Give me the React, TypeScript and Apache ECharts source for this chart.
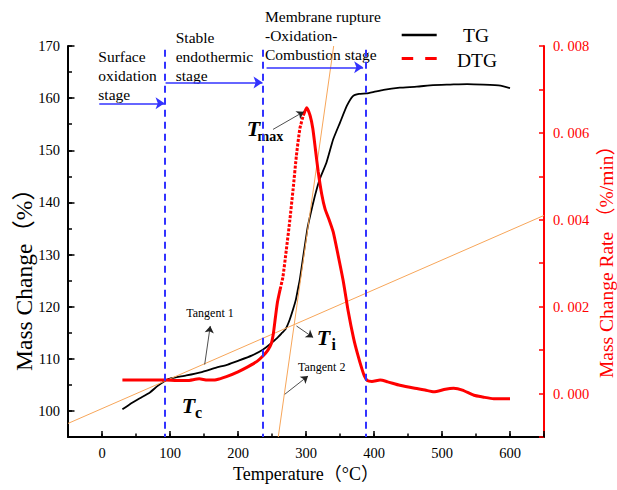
import React, { useEffect, useRef } from 'react';
import * as echarts from 'echarts';

// ---------- data ----------
const tgData: [number, number][] = [
  [30, 100.3], [38, 101.0], [45, 101.6], [55, 102.4], [70, 103.5], [82, 104.8], [93, 105.8],
  [100, 106.2], [124, 106.8], [145, 107.4], [168, 108.3], [185, 108.9], [200, 109.6], [220, 110.6],
  [237, 111.8], [247, 112.8], [257, 113.9], [265, 115.0], [270, 115.7], [276, 117.5], [281, 119.5],
  [285, 121.3], [288, 123.3], [291, 125.3], [296, 129.7], [302, 134.9], [306, 137.4], [313, 141.2],
  [320, 144.4], [330, 147.6], [340, 152.1], [350, 155.3], [360, 158.5], [369, 160.4], [378, 160.8],
  [389, 160.9], [400, 161.2], [414, 161.6], [438, 162.0], [463, 162.2], [487, 162.5], [512, 162.6],
  [537, 162.7], [561, 162.6], [586, 162.4], [600, 161.9],
];

const dtgData: [number, number][] = [
  [30, 0.00031], [50, 0.00031], [70, 0.00031], [93, 0.00031], [110, 0.0003], [125, 0.0003],
  [143, 0.00034], [155, 0.00031], [168, 0.00032], [183, 0.00039], [200, 0.0005], [215, 0.00062],
  [228, 0.00074], [237, 0.00087], [244, 0.001], [249, 0.00115], [252, 0.00138], [255, 0.00175],
  [258, 0.0021], [262, 0.0024], [266, 0.00268], [271, 0.0033], [276, 0.00396], [281, 0.0047],
  [286, 0.00549], [291, 0.0061], [296, 0.0064], [301, 0.00658], [306, 0.0064], [310, 0.0061],
  [314, 0.0056], [318, 0.0051], [323, 0.0046], [328, 0.00425], [334, 0.004], [340, 0.00372],
  [347, 0.0032], [355, 0.00257], [362, 0.0019], [370, 0.00127], [376, 0.0009], [382, 0.00058],
  [386, 0.0004], [390, 0.0003], [397, 0.00028], [409, 0.00031], [420, 0.00027], [438, 0.00019],
  [460, 0.00012], [475, 0.00008], [488, 0.00004], [505, 0.0001], [517, 0.00012], [530, 0.00008],
  [547, -0.00004], [560, -0.00008], [576, -0.00012], [600, -0.00012],
];

// range of the DTG rise that is drawn dotted in the reference
const DOT_FROM = 262;
const DOT_TO = 296;

// stage boundaries (°C)
const stageBounds = [93, 237, 388];

// tangent lines [T, mass]
const tangent1: [number, number][] = [[-50, 97.6], [650, 137.5]];
const tangent2: [number, number][] = [[259.2, 95], [340.7, 170]];

// stage arrows [T0, T1, mass]
const stageArrows: [number, number, number][] = [
  [-4, 92, 159.0],
  [93.5, 236, 163.0],
  [242, 384, 165.9],
];

// annotation pointers [[T0, m0], [T1, m1]]
const pointers: [[number, number], [number, number]][] = [
  [[151, 108.9], [159.2, 116.3]],   // Tangent 1
  [[268.8, 103.2], [303, 106.7]],   // Tangent 2
  [[286, 116.3], [310.5, 114.1]],   // Ti
  [[251.5, 154.0], [296.8, 157.4]], // Tmax
];

const SERIF = "'Liberation Serif', 'Noto Sans CJK SC', serif";
const BLUE = '#3333ff';
const RED = '#ff0000';
const ORANGE = '#f7a65a';

export default function App() {
  const ref = useRef<HTMLDivElement>(null);

  useEffect(() => {
    if (!ref.current) return;
    const chart = echarts.init(ref.current, null, { renderer: 'svg' });

    const dtgSolid = dtgData.map(([t, v]) => (t > DOT_FROM && t < DOT_TO ? [t, '-'] : [t, v]));
    const dtgDotted = dtgData.filter(([t]) => t >= DOT_FROM && t <= DOT_TO);

    const markData: any[] = [];
    stageBounds.forEach((t) => {
      markData.push([
        { coord: [t, 169.3], symbol: 'none', lineStyle: { color: BLUE, width: 2, type: [7, 5] }, itemStyle: { color: BLUE } },
        { coord: [t, 95], symbol: 'none' },
      ]);
    });
    stageArrows.forEach(([a, b, m]) => {
      markData.push([
        { coord: [a, m], symbol: 'none', lineStyle: { color: BLUE, width: 1.5, type: 'solid' }, itemStyle: { color: BLUE } },
        { coord: [b, m], symbol: 'arrow', symbolSize: 9 },
      ]);
    });
    pointers.forEach(([p0, p1]) => {
      markData.push([
        { coord: p0, symbol: 'none', lineStyle: { color: '#222', width: 0.8, type: 'solid' }, itemStyle: { color: '#222' } },
        { coord: p1, symbol: 'arrow', symbolSize: 7 },
      ]);
    });

    const txt = (x: number, y: number, text: string, extra: any = {}, el: any = {}) => ({
      type: 'text',
      x,
      y,
      silent: true,
      ...el,
      style: {
        text,
        fill: '#000',
        fontFamily: SERIF,
        fontSize: 15.5,
        align: 'left',
        textAlign: 'left',
        verticalAlign: 'middle',
        textVerticalAlign: 'middle',
        ...extra,
      },
    });

    const option: any = {
      animation: false,
      backgroundColor: '#fff',
      grid: { left: 68, right: 73, top: 46, bottom: 53 },
      xAxis: [
        {
          type: 'value', min: -50, max: 650, interval: 50, position: 'bottom',
          axisLine: { show: true, onZero: false, lineStyle: { color: '#000', width: 2 } },
          axisTick: { show: true, inside: true, length: 3.5, lineStyle: { color: '#000', width: 1.5 } },
          axisLabel: {
            formatter: (v: number) => (Math.round(v) % 100 === 0 ? String(Math.round(v)) : ''),
            fontSize: 14.5, fontFamily: SERIF, color: '#000', margin: 9,
          },
          splitLine: { show: false },
          name: 'Temperature（°C）', nameLocation: 'middle', nameGap: 26,
          nameTextStyle: { fontSize: 18, fontFamily: SERIF, color: '#000' },
        },
        {
          type: 'value', min: -50, max: 650, splitNumber: 7, position: 'bottom',
          axisLine: { show: false, onZero: false },
          axisTick: { show: true, inside: true, length: 6, lineStyle: { color: '#000', width: 1.5 } },
          axisLabel: { show: false },
          splitLine: { show: false },
        },
      ],
      yAxis: [
        {
          type: 'value', min: 95, max: 170, interval: 5, position: 'left',
          axisLine: { show: true, onZero: false, lineStyle: { color: '#000', width: 2 } },
          axisTick: { show: true, inside: true, length: 4, lineStyle: { color: '#000', width: 1.5 } },
          axisLabel: {
            formatter: (v: number) => (Math.round(v) % 10 === 0 && v >= 100 ? String(Math.round(v)) : ''),
            fontSize: 14.5, fontFamily: SERIF, color: '#000', margin: 8,
          },
          splitLine: { show: false },
        },
        {
          type: 'value', min: -0.001, max: 0.008, interval: 0.001, position: 'right',
          axisLine: { show: true, onZero: false, lineStyle: { color: RED, width: 2 } },
          axisTick: { show: true, inside: true, length: 5, lineStyle: { color: RED, width: 1.5 } },
          axisLabel: {
            formatter: (v: number) => {
              const k = Math.round(v * 1000);
              if (k < 0 || k % 2 !== 0) return '';
              return '0. ' + String(k).padStart(3, '0');
            },
            fontSize: 14.5, fontFamily: SERIF, color: RED, margin: 9,
          },
          splitLine: { show: false },
        },
        {
          type: 'value', min: 95, max: 170, splitNumber: 8, position: 'left',
          axisLine: { show: false, onZero: false },
          axisTick: { show: true, inside: true, length: 6.5, lineStyle: { color: '#000', width: 1.5 } },
          axisLabel: { show: false },
          splitLine: { show: false },
        },
      ],
      series: [
        {
          name: 'TG', type: 'line', xAxisIndex: 0, yAxisIndex: 0, data: tgData,
          symbol: 'none', smooth: 0.15, lineStyle: { color: '#000', width: 1.8 }, silent: true,
        },
        {
          name: 'Tangent 1', type: 'line', xAxisIndex: 0, yAxisIndex: 0, data: tangent1,
          symbol: 'none', lineStyle: { color: ORANGE, width: 1 }, silent: true,
        },
        {
          name: 'Tangent 2', type: 'line', xAxisIndex: 0, yAxisIndex: 0, data: tangent2,
          symbol: 'none', lineStyle: { color: ORANGE, width: 1 }, silent: true,
        },
        {
          name: 'DTG', type: 'line', xAxisIndex: 0, yAxisIndex: 1, data: dtgSolid,
          symbol: 'none', smooth: 0.2, connectNulls: false, lineStyle: { color: RED, width: 3 }, silent: true,
        },
        {
          name: 'DTG rise', type: 'line', xAxisIndex: 0, yAxisIndex: 1, data: dtgDotted,
          symbol: 'none', smooth: 0.2, lineStyle: { color: RED, width: 3, type: [3, 1.5] }, silent: true,
        },
        {
          name: 'annotations', type: 'line', xAxisIndex: 0, yAxisIndex: 0, data: [],
          markLine: {
            silent: true, animation: false,
            symbol: ['none', 'arrow'],
            label: { show: false },
            emphasis: { disabled: true },
            data: markData,
          },
        },
      ],
      graphic: [
        // stage texts
        txt(98.3, 47.2, 'Surface\noxidation\nstage', { lineHeight: 19, verticalAlign: 'top', textVerticalAlign: 'top' }),
        txt(175.7, 28.2, 'Stable\nendothermic\nstage', { lineHeight: 19, verticalAlign: 'top', textVerticalAlign: 'top' }),
        txt(265, 7.2, 'Membrane rupture\n-Oxidation-\nCombustion stage', { lineHeight: 19, verticalAlign: 'top', textVerticalAlign: 'top' }),
        // legend
        { type: 'line', silent: true, shape: { x1: 401.7, y1: 35, x2: 436.7, y2: 35 }, style: { stroke: '#000', lineWidth: 2.5 } },
        { type: 'line', silent: true, shape: { x1: 401.7, y1: 58.5, x2: 436.7, y2: 58.5 }, style: { stroke: RED, lineWidth: 3, lineDash: [11.5, 12] } },
        txt(476, 35, 'TG', { fontSize: 19.5, align: 'center', textAlign: 'center' }),
        txt(477, 60, 'DTG', { fontSize: 19.5, align: 'center', textAlign: 'center' }),
        // tangent labels
        txt(210, 313.3, 'Tangent 1', { fontSize: 12, align: 'center', textAlign: 'center' }),
        txt(321.7, 366.7, 'Tangent 2', { fontSize: 12, align: 'center', textAlign: 'center' }),
        // T labels
        txt(181.7, 405, 'T', { fontSize: 22, fontWeight: 'bold', fontStyle: 'italic' }),
        txt(195, 412, 'c', { fontSize: 16, fontWeight: 'bold' }),
        txt(316.7, 337.3, 'T', { fontSize: 22, fontWeight: 'bold', fontStyle: 'italic' }),
        txt(331.5, 344, 'i', { fontSize: 16, fontWeight: 'bold' }),
        txt(246.7, 128.3, 'T', { fontSize: 22, fontWeight: 'bold', fontStyle: 'italic' }),
        txt(257.5, 136.7, 'max', { fontSize: 14, fontWeight: 'bold' }),
        // y axis names
        txt(24, 274, 'Mass Change（%）', { fontSize: 23.5, align: 'center', textAlign: 'center' }, { rotation: Math.PI / 2 }),
        txt(606, 257, 'Mass Change Rate （%/min）', { fontSize: 19.5, fill: RED, align: 'center', textAlign: 'center' }, { rotation: Math.PI / 2 }),
      ],
    };

    chart.setOption(option);
    return () => chart.dispose();
  }, []);

  return (
    <div
      ref={ref}
      style={{ position: 'fixed', left: 0, top: 0, width: 617, height: 490, background: '#fff' }}
    />
  );
}
